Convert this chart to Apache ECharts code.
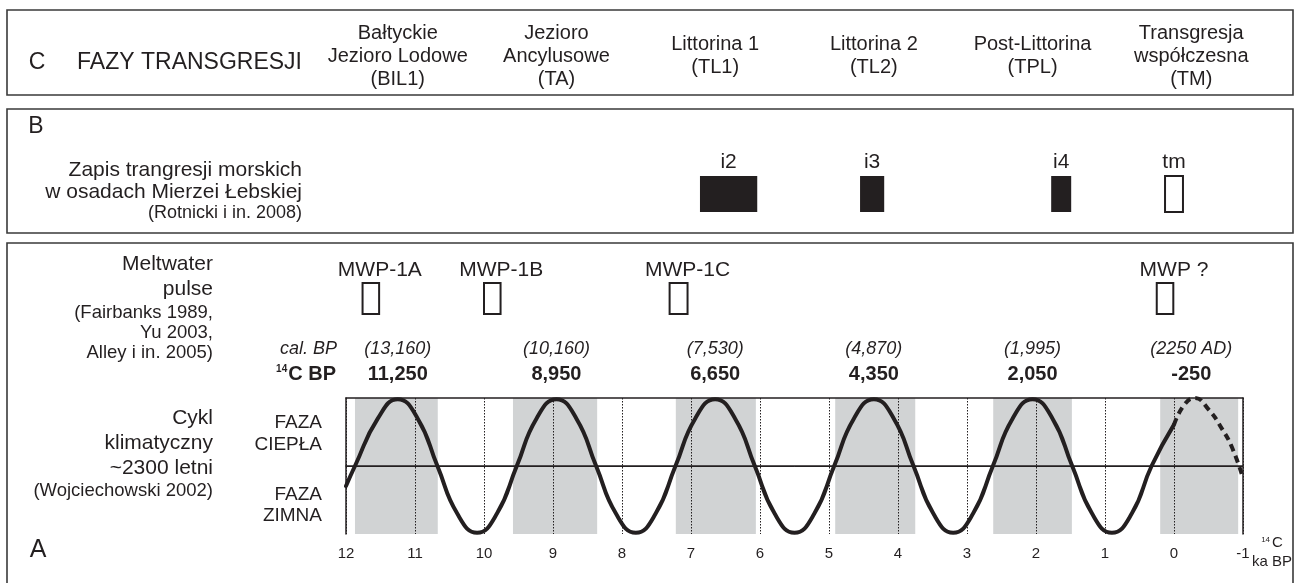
<!DOCTYPE html>
<html>
<head>
<meta charset="utf-8">
<script src="https://cdn.jsdelivr.net/npm/echarts@6/dist/echarts.min.js"></script>
<style>
html, body { margin: 0; padding: 0; background: #fff; }
#container { width: 1295px; height: 583px; }
</style>
</head>
<body>
<div id="container"></div>
<script>
// time axis, 14C ka BP (older to the left)
var axisMin = -1, axisMax = 12;

// peaks of the ~2300 yr cycle, 14C ka BP
var peakAges = [11.25, 8.95, 6.65, 4.35, 2.05, -0.25];
var peakLabels14C = ['11,250', '8,950', '6,650', '4,350', '2,050', '-250'];
var peakLabelsCal = ['(13,160)', '(10,160)', '(7,530)', '(4,870)', '(1,995)', '(2250 AD)'];

// panel C, one phase per peak
var phaseNames = [
    'Bałtyckie\nJezioro Lodowe\n(BIL1)',
    'Jezioro\nAncylusowe\n(TA)',
    'Littorina 1\n(TL1)',
    'Littorina 2\n(TL2)',
    'Post-Littorina\n(TPL)',
    'Transgresja\nwspółczesna\n(TM)'
];

// panel B, transgressions in the Łeba Barrier record [name, from, to] ka BP
var transgressions = [['i2', 6.87, 6.04], ['i3', 4.55, 4.20], ['i4', 1.78, 1.49], ['tm', 0.13, -0.13]];
var transgressionFilled = [true, true, true, false];

// meltwater pulses [name, from, to] ka BP
var pulses = [['MWP-1A', 11.76, 11.52], ['MWP-1B', 10.00, 9.76], ['MWP-1C', 7.31, 7.05], ['MWP ?', 0.25, 0.01]];

// warm phases (grey bands) [from, to] ka BP
var warmBands = [[11.87, 10.67], [9.58, 8.36], [7.22, 6.06], [4.91, 3.75], [2.62, 1.48], [0.20, -0.93]];

// climate cycle [age, level], level 1 = warmest, -1 = coldest
var cycleSolid = [
    [12.00, -0.30], [11.87, 0], [11.54, 0.71], [11.25, 1], [10.96, 0.71], [10.675, 0], [10.39, -0.71],
    [10.10, -1], [9.81, -0.71], [9.525, 0], [9.24, 0.71], [8.95, 1], [8.66, 0.71], [8.375, 0],
    [8.09, -0.71], [7.80, -1], [7.51, -0.71], [7.225, 0], [6.94, 0.71], [6.65, 1], [6.36, 0.71],
    [6.075, 0], [5.79, -0.71], [5.50, -1], [5.21, -0.71], [4.925, 0], [4.64, 0.71], [4.35, 1],
    [4.06, 0.71], [3.775, 0], [3.49, -0.71], [3.20, -1], [2.91, -0.71], [2.625, 0], [2.34, 0.71],
    [2.05, 1], [1.76, 0.71], [1.475, 0], [1.19, -0.71], [0.90, -1], [0.61, -0.71], [0.325, 0],
    [0.00, 0.62]
];
var cycleProjected = [[0.00, 0.62], [-0.15, 0.92], [-0.30, 1.02], [-0.50, 0.85], [-0.70, 0.55], [-0.84, 0.28], [-1.00, -0.18]];

var ink = '#231f20';
var grey = '#d1d3d4';
var font = '"Liberation Sans", Arial, Helvetica, sans-serif';

var dom = document.getElementById('container');
var myChart = echarts.init(dom, null, { renderer: 'canvas' });

// plot area of panel A, the overlay grid shares its x scale
var plotLeft = 346, plotRight = 52, plotTop = 398, plotBottom = 49;

function txt(str, size, extra) {
    var s = {
        text: str,
        font: (extra && extra.style ? extra.style + ' ' : '') + (extra && extra.weight ? extra.weight + ' ' : '') + size + 'px ' + font,
        fill: ink,
        lineHeight: extra && extra.lh ? extra.lh : size + 3,
        align: extra && extra.align ? extra.align : 'center',
        textAlign: extra && extra.align ? extra.align : 'center',
        verticalAlign: 'middle',
        textVerticalAlign: 'middle'
    };
    return s;
}

// text placed on the shared time scale, y in overlay rows
function timeText(ages, labels, y, size, extra) {
    return {
        type: 'custom',
        xAxisIndex: 1,
        yAxisIndex: 1,
        silent: true,
        z: 10,
        data: ages.map(function (a, i) { return [a, i]; }),
        renderItem: function (params, api) {
            var p = api.coord([api.value(0), y]);
            return {
                type: 'text',
                x: p[0] + (extra && extra.dx ? extra.dx : 0),
                y: p[1],
                style: txt(labels[api.value(1)], size, extra)
            };
        }
    };
}

function boxSeries(items, filled, y0, y1) {
    return {
        type: 'custom',
        xAxisIndex: 1,
        yAxisIndex: 1,
        silent: true,
        z: 10,
        data: items.map(function (d, i) { return [d[1], d[2], i]; }),
        renderItem: function (params, api) {
            var a = api.coord([api.value(0), y0]);
            var b = api.coord([api.value(1), y1]);
            var full = filled[api.value(2)];
            return {
                type: 'rect',
                shape: { x: a[0], y: a[1], width: b[0] - a[0], height: b[1] - a[1] },
                style: full ? { fill: ink, stroke: null } : { fill: null, stroke: ink, lineWidth: 2 }
            };
        }
    };
}

function mid(items) {
    return items.map(function (d) { return (d[1] + d[2]) / 2; });
}

var option = {
    animation: false,
    backgroundColor: '#fff',
    grid: [
        { left: plotLeft, right: plotRight, top: plotTop, bottom: plotBottom },
        { left: plotLeft, right: plotRight, top: 0, bottom: 0 }
    ],
    xAxis: [
        {
            type: 'value', gridIndex: 0, min: axisMin, max: axisMax, interval: 1, inverse: true, z: 3,
            axisLine: { show: true, lineStyle: { color: ink, width: 1.5 } },
            axisTick: { show: false },
            axisLabel: { color: ink, fontSize: 15, fontFamily: font, margin: 12 },
            splitLine: { show: true, lineStyle: { color: ink, width: 1, type: [1.5, 1.5] } }
        },
        { type: 'value', gridIndex: 1, min: axisMin, max: axisMax, inverse: true, show: false },
        {
            type: 'value', gridIndex: 0, min: axisMin, max: axisMax, inverse: true, position: 'top', z: 3,
            axisLine: { show: true, onZero: false, lineStyle: { color: ink, width: 1.5 } },
            axisTick: { show: false }, axisLabel: { show: false }, splitLine: { show: false }
        }
    ],
    yAxis: [
        {
            type: 'value', gridIndex: 0, min: -1.02, max: 1.02, z: 3,
            axisLine: { show: true, onZero: false, lineStyle: { color: ink, width: 1.5 } },
            axisTick: { show: false }, axisLabel: { show: false }, splitLine: { show: false }
        },
        { type: 'value', gridIndex: 1, min: 0, max: 583, inverse: true, show: false },
        {
            type: 'value', gridIndex: 0, min: -1.02, max: 1.02, position: 'right', z: 3,
            axisLine: { show: true, onZero: false, lineStyle: { color: ink, width: 1.5 } },
            axisTick: { show: false }, axisLabel: { show: false }, splitLine: { show: false }
        }
    ],
    series: [
        {
            // warm phase bands
            type: 'custom',
            xAxisIndex: 0,
            yAxisIndex: 0,
            silent: true,
            z: 1,
            data: warmBands,
            renderItem: function (params, api) {
                var cs = params.coordSys;
                var a = api.coord([api.value(0), 0]);
                var b = api.coord([api.value(1), 0]);
                return {
                    type: 'rect',
                    shape: { x: a[0], y: cs.y, width: b[0] - a[0], height: cs.height },
                    style: { fill: grey }
                };
            }
        },
        {
            type: 'line',
            xAxisIndex: 0,
            yAxisIndex: 0,
            z: 5,
            data: cycleSolid,
            smooth: 0.5,
            showSymbol: false,
            silent: true,
            lineStyle: { color: ink, width: 4, cap: 'round', join: 'round' },
            markLine: {
                silent: true,
                symbol: 'none',
                label: { show: false },
                lineStyle: { color: ink, width: 1, type: 'solid' },
                data: [{ yAxis: 0 }]
            }
        },
        {
            type: 'line',
            xAxisIndex: 0,
            yAxisIndex: 0,
            z: 5,
            data: cycleProjected,
            smooth: 0.5,
            showSymbol: false,
            silent: true,
            lineStyle: { color: ink, width: 4, type: [7, 5] }
        },
        timeText(peakAges, phaseNames, 56, 20, { lh: 23 }),
        timeText(mid(transgressions), transgressions.map(function (d) { return d[0]; }), 162, 21),
        boxSeries(transgressions, transgressionFilled, 176, 212),
        timeText(mid(pulses), pulses.map(function (d) { return d[0]; }), 270, 21, { dx: 9 }),
        boxSeries(pulses, [false, false, false, false], 283, 314),
        timeText(peakAges, peakLabelsCal, 349, 18, { style: 'italic' }),
        timeText(peakAges, peakLabels14C, 374, 20, { weight: 'bold' })
    ],
    graphic: [
        { type: 'rect', silent: true, shape: { x: 7, y: 10, width: 1286, height: 85 }, style: { fill: null, stroke: '#3a3a3a', lineWidth: 1.6 } },
        { type: 'rect', silent: true, shape: { x: 7, y: 109, width: 1286, height: 124 }, style: { fill: null, stroke: '#3a3a3a', lineWidth: 1.6 } },
        { type: 'rect', silent: true, shape: { x: 7, y: 243, width: 1286, height: 360 }, style: { fill: null, stroke: '#3a3a3a', lineWidth: 1.6 } },

        { type: 'text', silent: true, x: 37, y: 63, style: txt('C', 23) },
        { type: 'text', silent: true, x: 302, y: 63, style: txt('FAZY TRANSGRESJI', 23, { align: 'right' }) },

        { type: 'text', silent: true, x: 36, y: 127, style: txt('B', 23) },
        { type: 'text', silent: true, x: 302, y: 181, style: txt('Zapis trangresji morskich\nw osadach Mierzei Łebskiej', 21, { align: 'right', lh: 22 }) },
        { type: 'text', silent: true, x: 302, y: 213, style: txt('(Rotnicki i in. 2008)', 18, { align: 'right' }) },

        { type: 'text', silent: true, x: 213, y: 277, style: txt('Meltwater\npulse', 21, { align: 'right', lh: 25 }) },
        { type: 'text', silent: true, x: 213, y: 333, style: txt('(Fairbanks 1989,\nYu 2003,\nAlley i in. 2005)', 18.5, { align: 'right', lh: 20 }) },
        { type: 'text', silent: true, x: 213, y: 443, style: txt('Cykl\nklimatyczny\n~2300 letni', 21, { align: 'right', lh: 25 }) },
        { type: 'text', silent: true, x: 213, y: 491, style: txt('(Wojciechowski 2002)', 18.5, { align: 'right' }) },
        { type: 'text', silent: true, x: 38, y: 550, style: txt('A', 25) },

        { type: 'text', silent: true, x: 322, y: 434, style: txt('FAZA\nCIEPŁA', 19, { align: 'right', lh: 22 }) },
        { type: 'text', silent: true, x: 322, y: 505, style: txt('FAZA\nZIMNA', 19, { align: 'right', lh: 21 }) },

        { type: 'text', silent: true, x: 337, y: 349, style: txt('cal. BP', 18, { align: 'right', style: 'italic' }) },
        {
            type: 'text', silent: true, x: 336, y: 374,
            style: {
                text: '{s|14}{b|C BP}',
                align: 'right', textAlign: 'right', verticalAlign: 'middle', textVerticalAlign: 'middle',
                fill: ink,
                rich: {
                    s: { fontSize: 10, fontFamily: font, fontWeight: 'bold', fill: ink, color: ink, padding: [0, 1, 9, 0] },
                    b: { fontSize: 20, fontFamily: font, fontWeight: 'bold', fill: ink, color: ink }
                }
            }
        },
        {
            type: 'text', silent: true, x: 1272, y: 543,
            style: {
                text: '{s|14}{c|C}',
                align: 'center', textAlign: 'center', verticalAlign: 'middle', textVerticalAlign: 'middle',
                fill: ink,
                rich: {
                    s: { fontSize: 8, fontFamily: font, fill: ink, color: ink, padding: [0, 2, 7, 0] },
                    c: { fontSize: 15, fontFamily: font, fill: ink, color: ink }
                }
            }
        },
        { type: 'text', silent: true, x: 1272, y: 562, style: txt('ka BP', 15) }
    ]
};

myChart.setOption(option);
</script>
</body>
</html>
